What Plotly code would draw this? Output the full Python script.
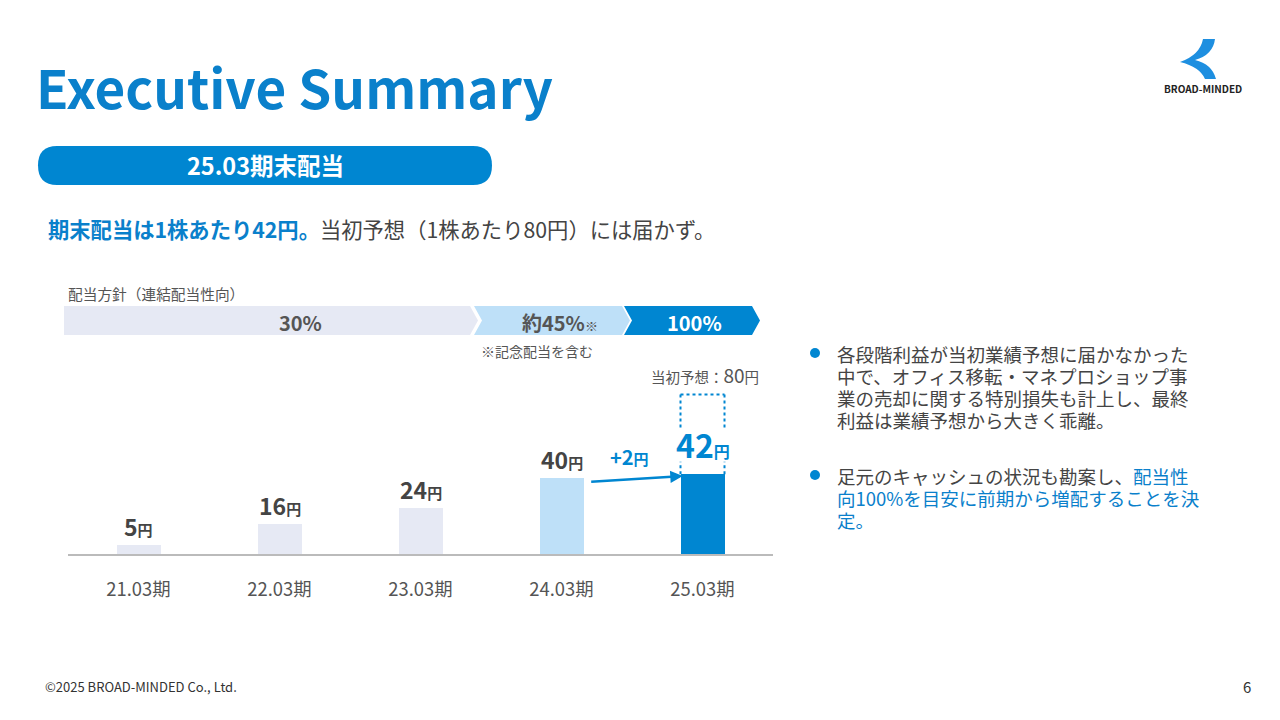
import plotly.graph_objects as go

# ---- data ----
periods = ["21.03期", "22.03期", "23.03期", "24.03期", "25.03期"]
dividends = [5, 16, 24, 40, 42]
initial_forecast = 80
bar_colors = ["#E6E9F4", "#E6E9F4", "#E6E9F4", "#BEE0F8", "#0086D1"]
policy_labels = ["30%", "約45%<span style='font-size:13px'>※</span>", "100%"]
increase_label = "+2"

W, H = 1280, 720
FONT = "Noto Sans CJK JP"
BLUE = "#0086D1"
TBLUE = "#0A80CB"
GRAY = "#555555"


def px(x):
    return x / W


def py(y):
    return 1 - y / H


def path(points):
    return "M " + " L ".join(f"{px(x)} {py(y)}" for x, y in points) + " Z"


fig = go.Figure()

fig.add_trace(go.Bar(
    x=periods, y=dividends, marker=dict(color=bar_colors, line=dict(width=0)),
    width=0.312, hoverinfo="skip", showlegend=False,
))

# bar value labels
for i, (p, v) in enumerate(zip(periods, dividends)):
    if i == len(periods) - 1:
        t = f"<b>{v}</b><span style='font-size:16px'><b>円</b></span>"
        fig.add_annotation(x=p, y=v, xref="x", yref="y", text=t, showarrow=False,
                           yanchor="bottom", yshift=6, borderpad=0,
                           font=dict(family=FONT, size=32, color=BLUE))
    else:
        t = f"<b>{v}</b><span style='font-size:15px'><b>円</b></span>"
        fig.add_annotation(x=p, y=v, xref="x", yref="y", text=t, showarrow=False,
                           yanchor="bottom", yshift=0,
                           font=dict(family=FONT, size=23, color="#444444"))

# dotted forecast box (drawn above the 42 bar, up to the initial forecast level)
hw = 0.156
top = initial_forecast + 4
dot = dict(color=BLUE, width=2, dash="dot")
fig.add_shape(type="line", xref="x", yref="y", x0=4 - hw, x1=4 + hw, y0=top, y1=top, line=dot)
for sx in (4 - hw, 4 + hw):
    fig.add_shape(type="line", xref="x", yref="y", x0=sx, x1=sx, y0=top, y1=top - 17.5, line=dot)
    fig.add_shape(type="line", xref="x", yref="y", x0=sx, x1=sx, y0=dividends[-1], y1=dividends[-1] + 6.5, line=dot)
fig.add_annotation(x=4, y=top, xref="x", yref="y",
                   text=f"当初予想：<span style='font-size:19px'>{initial_forecast}</span>円",
                   showarrow=False, xanchor="right", xshift=58, yanchor="bottom", yshift=4,
                   font=dict(family=FONT, size=14.5, color=GRAY))

# increase arrow
fig.add_annotation(x=3.86, y=dividends[-1] - 1, xref="x", yref="y",
                   ax=3.2, ay=dividends[-2] - 2, axref="x", ayref="y",
                   showarrow=True, arrowhead=2, arrowsize=1, arrowwidth=2.5, arrowcolor=BLUE, text="")
fig.add_annotation(x=3.48, y=dividends[-1], xref="x", yref="y",
                   text=f"<b>{increase_label}</b><span style='font-size:15px'><b>円</b></span>",
                   showarrow=False, yanchor="bottom", yshift=1,
                   font=dict(family=FONT, size=20, color=BLUE))

shapes = []
# policy chevrons
shapes.append(dict(type="path", xref="paper", yref="paper", line=dict(width=0), fillcolor="#E6E9F4",
                   path=path([(64, 306), (470, 306), (478, 320.5), (470, 335), (64, 335)])))
shapes.append(dict(type="path", xref="paper", yref="paper", line=dict(width=0), fillcolor="#BEE0F8",
                   path=path([(474, 306), (622, 306), (630, 320.5), (622, 335), (474, 335), (482, 320.5)])))
shapes.append(dict(type="path", xref="paper", yref="paper", line=dict(width=0), fillcolor=BLUE,
                   path=path([(624, 306), (752, 306), (760, 320.5), (752, 335), (624, 335), (632, 320.5)])))
# header pill
shapes.append(dict(type="path", xref="paper", yref="paper", line=dict(width=0), fillcolor=BLUE,
                   path=f"M {px(57)} {py(146)} L {px(473)} {py(146)} "
                        f"Q {px(492)} {py(146)} {px(492)} {py(165.5)} Q {px(492)} {py(185)} {px(473)} {py(185)} "
                        f"L {px(57)} {py(185)} Q {px(38)} {py(185)} {px(38)} {py(165.5)} "
                        f"Q {px(38)} {py(146)} {px(57)} {py(146)} Z"))
# logo
shapes.append(dict(type="path", xref="paper", yref="paper", line=dict(width=0), fillcolor="#1E8FE0",
                   path=f"M {px(1203)} {py(39)} L {px(1215)} {py(39)} "
                        f"Q {px(1213)} {py(55)} {px(1195)} {py(60)} "
                        f"Q {px(1212)} {py(64)} {px(1216)} {py(79)} L {px(1205)} {py(79)} "
                        f"Q {px(1200)} {py(67)} {px(1180)} {py(62)} "
                        f"Q {px(1200)} {py(55)} {px(1203)} {py(39)} Z"))
# bullets
for by in (353, 475):
    shapes.append(dict(type="circle", xref="paper", yref="paper", line=dict(width=0), fillcolor=BLUE,
                       x0=px(810), x1=px(820), y0=py(by + 5), y1=py(by - 5)))

annots = []


def txt(x, y, text, size, color, xanchor="left", bold=False, yanchor="middle", height=None):
    d = dict(x=px(x), y=py(y), xref="paper", yref="paper", text=f"<b>{text}</b>" if bold else text,
             showarrow=False, xanchor=xanchor, yanchor=yanchor, borderpad=0,
             font=dict(family=FONT, size=size, color=color))
    if height:
        d["height"] = height
    annots.append(d)


txt(35, 86, "Executive Summary", 53, TBLUE, bold=True)
txt(265, 165, "25.03期末配当", 23.5, "white", xanchor="center", bold=True)
txt(47, 228, f"<b><span style='color:{TBLUE}'>期末配当は1株あたり42円。</span></b>当初予想（1株あたり80円）には届かず。",
    21.3, "#444444")
txt(67, 293, "配当方針（連結配当性向）", 14.7, GRAY)
txt(300, 322, policy_labels[0], 20, "#555555", xanchor="center", bold=True)
txt(560, 322, policy_labels[1], 20, "#555555", xanchor="center", bold=True)
txt(694, 322, policy_labels[2], 20, "white", xanchor="center", bold=True)
txt(480, 351, "※記念配当を含む", 14, GRAY)

bullet1 = ["各段階利益が当初業績予想に届かなかった", "中で、オフィス移転・マネプロショップ事",
           "業の売却に関する特別損失も計上し、最終", "利益は業績予想から大きく乖離。"]
for k, line in enumerate(bullet1):
    txt(836, 353 + 22 * k, line, 18.5, "#444444", height=21)
bullet2 = ["足元のキャッシュの状況も勘案し、<span style='color:#0A80CB'>配当性</span>",
           "<span style='color:#0A80CB'>向100%を目安に前期から増配することを決</span>",
           "<span style='color:#0A80CB'>定。</span>"]
for k, line in enumerate(bullet2):
    txt(836, 475 + 22 * k, line, 18.5, "#444444", height=21)

txt(44, 686, "©2025 BROAD-MINDED Co., Ltd.", 13, "#333333")
txt(1252, 686, "6", 15, "#333333", xanchor="right")
txt(1203, 88, "BROAD-MINDED", 10, "#222222", xanchor="center", bold=True)

for a in annots:
    fig.add_annotation(**a)

scale = 1.9
fig.update_layout(
    width=W, height=H, margin=dict(l=0, r=0, t=0, b=0),
    paper_bgcolor="white", plot_bgcolor="white",
    shapes=list(fig.layout.shapes) + shapes,
    xaxis=dict(domain=[px(68), px(773)], range=[-0.5, 4.5], showgrid=False, zeroline=False,
               showline=True, linecolor="#BBBBBB", linewidth=2, ticks="",
               tickfont=dict(family=FONT, size=18.4, color=GRAY), ticklabelstandoff=18, fixedrange=True),
    yaxis=dict(domain=[py(554), py(380)], range=[0, (554 - 380) / scale], visible=False, fixedrange=True),
    bargap=0, showlegend=False,
)

fig.write_html("out.html", config={"displayModeBar": False},
               post_script="document.body.style.margin='0';document.body.style.overflow='hidden';")
